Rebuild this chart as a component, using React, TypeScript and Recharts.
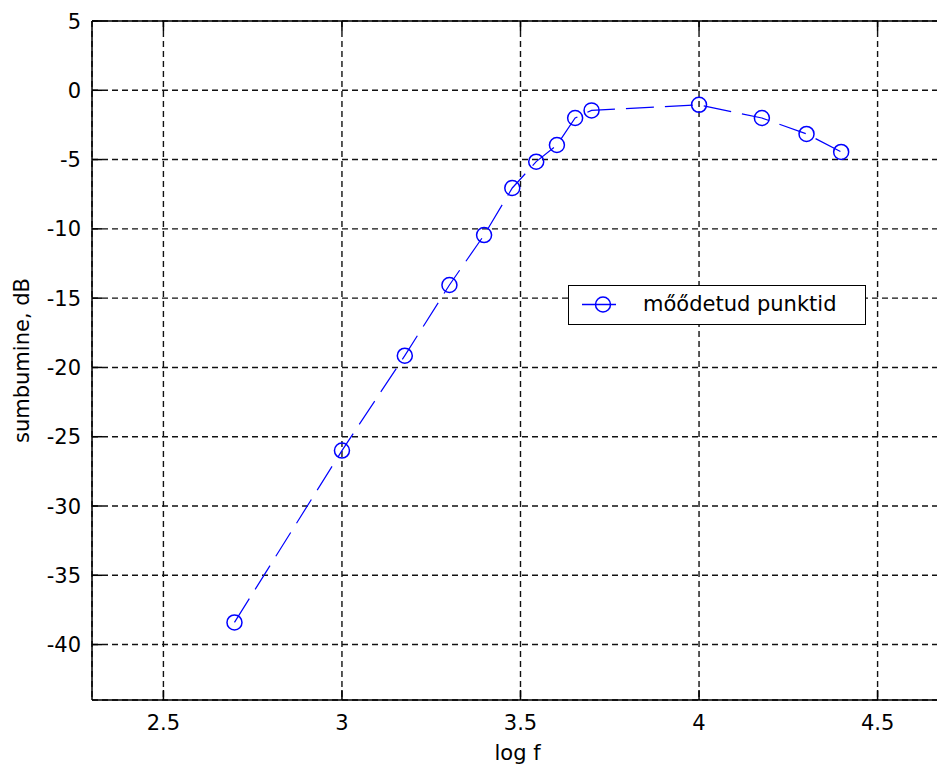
import React from "react";
import { CartesianGrid, Legend, Line, LineChart, ReferenceLine, XAxis, YAxis } from "recharts";

// measured points: log10 of frequency vs attenuation (dB)
const logF = [2.699, 3.0, 3.176, 3.301, 3.398, 3.477, 3.544, 3.602, 3.653, 3.699, 4.0, 4.176, 4.301, 4.398];
const attenuation = [-38.4, -26.0, -19.15, -14.05, -10.45, -7.05, -5.15, -3.95, -2.0, -1.45, -1.05, -2.0, -3.15, -4.45];

const xTicks = [2.5, 3, 3.5, 4, 4.5];
const yTicks = [5, 0, -5, -10, -15, -20, -25, -30, -35, -40];
const xDomain = [2.3, 4.7];
const yDomain = [-44, 5];

const seriesName = "mőődetud punktid";
const xLabel = "log f";
const yLabel = "sumbumine, dB";

const data = logF.map((x, i) => ({ x, y: attenuation[i] }));

const FONT = "'DejaVu Sans', Arial, sans-serif";
const BLUE = "#0000ff";
const PLOT_TOP = 21;
const TICK_LEN = 10;

function XTick(props: any) {
  const { x, y, payload } = props;
  return (
    <g>
      <line x1={x} x2={x} y1={y} y2={y - TICK_LEN} stroke="#000" strokeWidth={1.5} />
      <line x1={x} x2={x} y1={PLOT_TOP} y2={PLOT_TOP + TICK_LEN} stroke="#000" strokeWidth={1.5} />
      <text x={x} y={y + 30} textAnchor="middle" fontFamily={FONT} fontSize={21} fill="#000">
        {payload.value}
      </text>
    </g>
  );
}

function YTick(props: any) {
  const { x, y, payload } = props;
  return (
    <g>
      <line x1={x} x2={x + TICK_LEN} y1={y} y2={y} stroke="#000" strokeWidth={1.5} />
      <text x={x - 11} y={y + 7.6} textAnchor="end" fontFamily={FONT} fontSize={21} fill="#000">
        {payload.value}
      </text>
    </g>
  );
}

function LegendBox() {
  return (
    <div
      style={{
        width: 298,
        height: 40,
        boxSizing: "border-box",
        border: "1.5px solid #000",
        background: "#fff",
        position: "relative",
        fontFamily: FONT,
        fontSize: 21,
        color: "#000",
      }}
    >
      <svg width={60} height={38} style={{ position: "absolute", left: 0, top: 0 }}>
        <line x1={13} x2={47} y1={18.5} y2={18.5} stroke={BLUE} strokeWidth={1.5} />
        <circle cx={34} cy={18.5} r={7.5} stroke={BLUE} strokeWidth={1.5} fill="none" />
      </svg>
      <span style={{ position: "absolute", left: 74, top: 5, lineHeight: "26px", whiteSpace: "nowrap" }}>{seriesName}</span>
    </div>
  );
}

export default function App() {
  return (
    <div style={{ position: "absolute", left: 0, top: 0, width: 937, height: 774, overflow: "hidden", background: "#fff" }}>
      <LineChart width={960} height={774} data={data} margin={{ top: PLOT_TOP, right: 11, left: 0, bottom: 0 }}>
        <CartesianGrid stroke="#111" strokeWidth={1.4} strokeDasharray="6 4" />
        <XAxis
          dataKey="x"
          type="number"
          domain={xDomain}
          ticks={xTicks}
          height={74}
          tickSize={0}
          tickMargin={0}
          tickLine={false}
          axisLine={{ stroke: "#000", strokeWidth: 1.5 }}
          tick={<XTick />}
          label={{ value: xLabel, position: "insideBottom", offset: 14, dx: -3, style: { fontFamily: FONT, fontSize: 21, fill: "#000" } }}
        />
        <YAxis
          type="number"
          domain={yDomain}
          ticks={yTicks}
          width={92}
          tickSize={0}
          tickMargin={0}
          tickLine={false}
          axisLine={{ stroke: "#000", strokeWidth: 1.5 }}
          tick={<YTick />}
          label={{ value: yLabel, angle: -90, position: "insideLeft", offset: 22, style: { textAnchor: "middle", fontFamily: FONT, fontSize: 21, fill: "#000" } }}
        />
        <ReferenceLine y={5} stroke="#000" strokeWidth={1.5} />
        <ReferenceLine x={4.7} stroke="#000" strokeWidth={1.5} />
        <Line
          type="linear"
          dataKey="y"
          name={seriesName}
          stroke={BLUE}
          strokeWidth={1.2}
          strokeDasharray="28 11"
          dot={{ r: 7.5, stroke: BLUE, strokeWidth: 1.5, fill: "none", strokeDasharray: "0" }}
          activeDot={false}
          isAnimationActive={false}
        />
        <Legend
          layout="horizontal"
          verticalAlign="middle"
          align="center"
          content={<LegendBox />}
          wrapperStyle={{ left: 568, top: 285, width: 298, height: 40 }}
        />
      </LineChart>
    </div>
  );
}
